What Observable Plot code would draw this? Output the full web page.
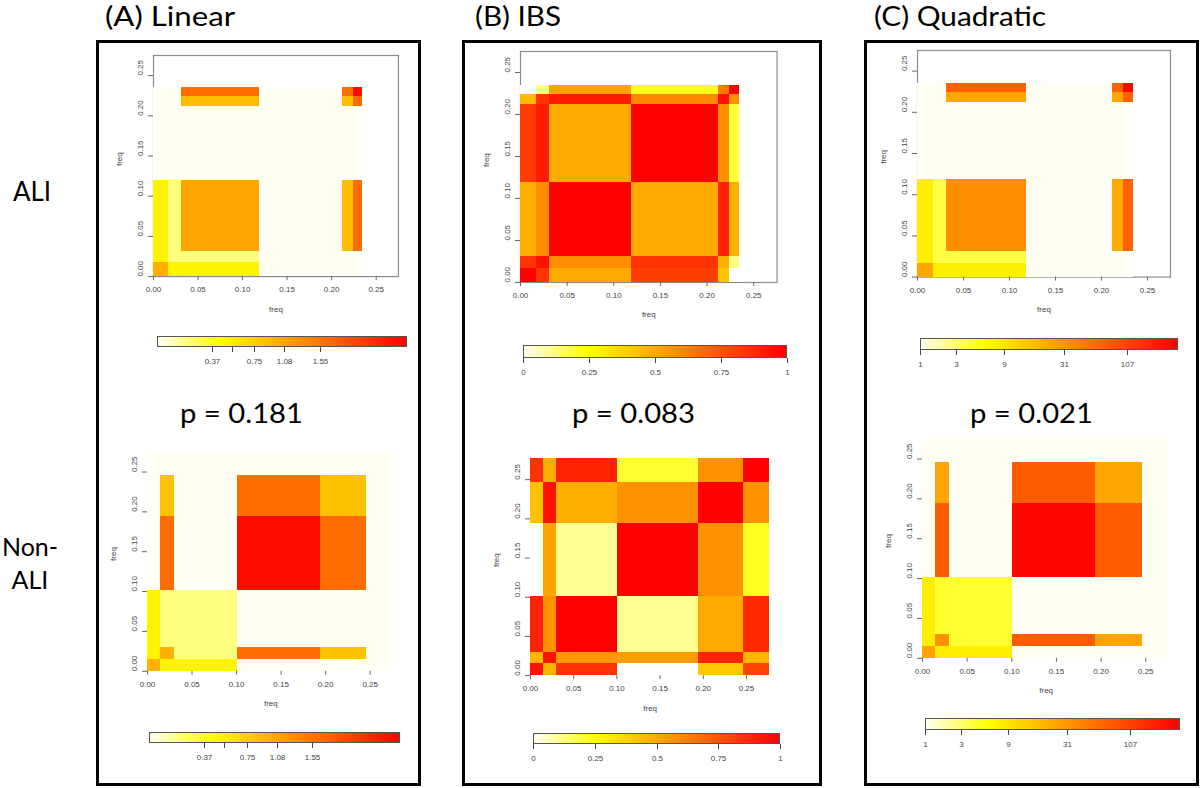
<!DOCTYPE html>
<html><head><meta charset="utf-8">
<script src="https://cdn.jsdelivr.net/npm/d3@7"></script>
<script src="https://cdn.jsdelivr.net/npm/@observablehq/plot@0.6"></script>
<style>
body{margin:0;background:#fff;}
#root{position:relative;width:1200px;height:788px;overflow:hidden;}
</style></head><body><div id="root"></div>
<script>
// ---------------- data ----------------
const columnTitles = ["(A) Linear", "(B) IBS", "(C) Quadratic"];
const rowLabelALI = ["ALI"];
const rowLabelNonALI = ["Non-", "ALI"];
const pValues = ["p = 0.181", "p = 0.083", "p = 0.021"];
const freqTicks = [0, 0.05, 0.10, 0.15, 0.20, 0.25];
const axisLabel = "freq";

// cell boundaries (variant frequency) for each row of panels
const aliBreaks = [0, 0.017, 0.031, 0.119, 0.212, 0.224, 0.235];
const nonAliBreaks = [0, 0.015, 0.030, 0.101, 0.194, 0.246, 0.277];

// kernel matrices: rows = y intervals (bottom to top), columns = x intervals; null = missing
const linearALI = [
  [1.00, 0.50, 0.50, 0, 0, 0],
  [0.50, 0.19, 0.19, 0, 0, 0],
  [0.50, 0.19, 1.10, 0, 0.90, 1.66],
  [0, 0, 0, 0, 0, 0],
  [0, 0, 0.90, 0, 0.90, 1.66],
  [0, 0, 1.66, 0, 1.66, 3.00]
];
const linearNonALI = [
  [1.00, 0.50, 0.50, 0, 0, 0],
  [0.50, 1.00, 0.19, 1.66, 0.85, 0],
  [0.50, 0.19, 0.19, 0, 0, 0],
  [0, 1.66, 0, 3.00, 1.66, 0],
  [0, 0.85, 0, 1.66, 0.85, 0],
  [0, 0, 0, 0, 0, 0]
];
const ibsALI = [
  [1.00, 0.85, 0.50, 0.82, 0.42, null],
  [0.85, 0.95, 0.58, 0.85, 0.48, 0.12],
  [0.48, 0.58, 1.00, 0.50, 0.90, 0.48],
  [0.82, 0.92, 0.50, 1.00, 0.58, 0.20],
  [0.45, 0.85, 0.92, 0.60, 0.95, 0.58],
  [null, 0.12, 0.52, 0.22, 0.65, 1.00]
];
const ibsNonALI = [
  [0.95, 0.47, 0.85, null, 0.41, 0.80],
  [0.47, 0.95, 0.56, 0.54, 0.90, 0.47],
  [0.90, 0.57, 1.00, 0.10, 0.50, 0.88],
  [null, 0.52, 0.10, 1.00, 0.57, 0.22],
  [0.43, 0.95, 0.49, 0.57, 1.00, 0.57],
  [0.85, 0.49, 0.90, 0.20, 0.57, 1.00]
];
const quadALI = [
  [25, 7.9, 7.9, 1, 1, 1],
  [7.9, 3.9, 3.9, 1, 1, 1],
  [7.9, 3.9, 34.6, 1, 22.9, 70],
  [1, 1, 1, 1, 1, 1],
  [1, 1, 25, 1, 25, 70],
  [1, 1, 70, 1, 70, 259]
];
const quadNonALI = [
  [25, 7.9, 7.9, 1, 1, 1],
  [7.9, 32.9, 4.4, 74, 25, 1],
  [7.9, 4.4, 4.4, 1, 1, 1],
  [1, 74, 1, 259, 74, 1],
  [1, 25, 1, 74, 25, 1],
  [1, 1, 1, 1, 1, 1]
];
const linearDomain = [0, 3.21];
const ibsDomain = [0, 1];
const quadDomain = [1, 286];
const linearTicks = [0.37, 0.54, 0.75, 1.08, 1.55];
const linearTickLabels = ["0.37", "", "0.75", "1.08", "1.55"];
const ibsTicks = [0, 0.25, 0.5, 0.75, 1];
const ibsTickLabels = ["0", "0.25", "0.5", "0.75", "1"];
const quadTicks = [1, 3, 9, 31, 107];
const quadTickLabels = ["1", "3", "9", "31", "107"];

// ---------------- helpers ----------------
const root = document.getElementById("root");
function heat(t) {
  t = Math.max(0, Math.min(1, t));
  if (t < 0.25) return d3.interpolateRgb("#fffff4", "#ffff00")(t / 0.25);
  const h = 60 * (1 - (t - 0.25) / 0.75);
  return d3.hsl(h, 1, 0.5).formatHex();
}
const colorLinear = {type: "symlog", constant: 1, domain: linearDomain, interpolate: heat};
const colorIBS = {type: "linear", domain: ibsDomain, interpolate: heat};
const colorQuad = {type: "symlog", constant: 1, domain: quadDomain, interpolate: heat};
const fmt2 = d3.format(".2f");
const tickFont = "'Liberation Sans', Arial, sans-serif";

function place(el, left, top) {
  el.style.position = "absolute";
  el.style.left = left + "px";
  el.style.top = top + "px";
  root.appendChild(el);
}

function heatmap({matrix, breaks, color, x0, kx, xmax, y0, ky, ymax, frame}) {
  const ml = 45, mr = 6, mt = 6, mb = 45;
  const w = kx * xmax, h = ky * ymax;
  const cells = [];
  matrix.forEach((row, j) => row.forEach((v, i) =>
    cells.push({x1: breaks[i], x2: breaks[i + 1], y1: breaks[j], y2: breaks[j + 1], v})));
  const svg = Plot.plot({
    width: w + ml + mr, height: h + mt + mb,
    marginLeft: ml, marginRight: mr, marginTop: mt, marginBottom: mb,
    x: {domain: [0, xmax], axis: null},
    y: {domain: [0, ymax], axis: null},
    color,
    style: {background: "transparent", fontFamily: tickFont, color: "#444", overflow: "visible"},
    marks: [
      frame ? Plot.frame({stroke: "#8c8c8c", strokeWidth: 1.2}) : null,
      Plot.rect(cells.filter(d => d.v != null), {x1: "x1", x2: "x2", y1: "y1", y2: "y2", fill: "v", shapeRendering: "crispEdges"}),
      Plot.rect(cells.filter(d => d.v == null), {x1: "x1", x2: "x2", y1: "y1", y2: "y2", fill: "white", shapeRendering: "crispEdges"}),
      Plot.axisX({ticks: freqTicks, tickFormat: fmt2, tickSize: 4, tickPadding: 6, fontSize: 8, label: null, stroke: "#666", fill: "#444"}),
      Plot.axisY({ticks: freqTicks, tickSize: 5, tickFormat: () => "", label: null, stroke: "#666"}),
      Plot.text(freqTicks, {y: d => d, frameAnchor: "left", text: fmt2, rotate: -90, dx: -13, fontSize: 8, fill: "#444"}),
      Plot.text([axisLabel], {frameAnchor: "bottom", dy: 35, fontSize: 8, fill: "#444"}),
      Plot.text([axisLabel], {frameAnchor: "left", dx: -34, rotate: -90, fontSize: 8, fill: "#444"})
    ]
  });
  place(svg, x0 - ml, y0 - h - mt);
}

function colorbar({color, ticks, labels, left, top, width, barH}) {
  const mt = 1, tickSize = 5, mb = 24;
  const leg = Plot.legend({
    color: {...color, label: null},
    ticks, tickFormat: d => labels[ticks.indexOf(d)] ?? "",
    width, height: mt + barH + mb, marginTop: mt, marginBottom: mb, marginLeft: 0, marginRight: 0,
    tickSize,
    style: {fontSize: "8px", fontFamily: tickFont, color: "#444", background: "transparent", overflow: "visible"}
  });
  leg.querySelectorAll(".tick line").forEach(l => l.setAttribute("y1", 0));
  leg.querySelectorAll(".tick text").forEach(t => t.setAttribute("y", (+t.getAttribute("y") || 8) + 3));
  d3.select(leg).append("rect").attr("x", 0.5).attr("y", mt + 0.5).attr("width", width - 1).attr("height", barH - 1)
    .attr("fill", "none").attr("stroke", "#555").attr("stroke-width", 1);
  leg.style.maxWidth = "none";
  place(leg, left, top - mt);
}

// ---------------- frame, titles, labels ----------------
const ov = d3.create("svg").attr("width", 1200).attr("height", 788);
ov.style("position", "absolute").style("left", "0px").style("top", "0px");
const boxes = [[97.5, 41.5, 419.5, 784.5], [463.5, 41.5, 820.5, 784.5], [865.5, 41.5, 1197.5, 784.5]];
boxes.forEach(([a, b, c, d]) => ov.append("rect").attr("x", a).attr("y", b).attr("width", c - a).attr("height", d - b)
  .attr("fill", "none").attr("stroke", "#000").attr("stroke-width", 3));
const big = "Lato, 'Open Sans', sans-serif";
const titlePos = [[105, 130], [475, 86], [874, 172]];
columnTitles.forEach((t, i) => ov.append("text").attr("x", titlePos[i][0]).attr("y", 26).attr("font-family", big)
  .attr("font-size", 26).attr("textLength", titlePos[i][1]).attr("lengthAdjust", "spacingAndGlyphs").text(t));
const pPos = [[180, 123], [572, 123], [970, 123]];
pValues.forEach((t, i) => ov.append("text").attr("x", pPos[i][0]).attr("y", 423).attr("font-family", big)
  .attr("font-size", 26).attr("textLength", pPos[i][1]).attr("lengthAdjust", "spacingAndGlyphs").text(t));
ov.append("text").attr("x", 32).attr("y", 201).attr("text-anchor", "middle").attr("font-family", big).attr("font-size", 26).text(rowLabelALI[0]);
rowLabelNonALI.forEach((t, i) => ov.append("text").attr("x", 30).attr("y", 556 + 33 * i).attr("text-anchor", "middle")
  .attr("font-family", big).attr("font-size", 25).text(t));
root.appendChild(ov.node());

// ---------------- heatmaps ----------------
heatmap({matrix: linearALI, breaks: aliBreaks, color: colorLinear, x0: 153.3, kx: 890.7, xmax: 0.275, y0: 276, ky: 804, ymax: 0.275, frame: true});
heatmap({matrix: ibsALI, breaks: aliBreaks, color: colorIBS, x0: 520, kx: 933, xmax: 0.275, y0: 282.3, ky: 840, ymax: 0.275, frame: true});
heatmap({matrix: quadALI, breaks: aliBreaks, color: colorQuad, x0: 916.7, kx: 920, xmax: 0.275, y0: 276.7, ky: 824, ymax: 0.275, frame: true});
heatmap({matrix: linearNonALI, breaks: nonAliBreaks, color: colorLinear, x0: 146.7, kx: 890.7, xmax: 0.277, y0: 671, ky: 797, ymax: 0.277, frame: false});
heatmap({matrix: ibsNonALI, breaks: nonAliBreaks, color: colorIBS, x0: 530, kx: 864, xmax: 0.277, y0: 675, ky: 784, ymax: 0.277, frame: false});
heatmap({matrix: quadNonALI, breaks: nonAliBreaks, color: colorQuad, x0: 921.7, kx: 893, xmax: 0.277, y0: 657.3, ky: 797, ymax: 0.277, frame: false});

// ---------------- colour bars ----------------
colorbar({color: colorLinear, ticks: linearTicks, labels: linearTickLabels, left: 157.3, top: 336, width: 250, barH: 11});
colorbar({color: colorLinear, ticks: linearTicks, labels: linearTickLabels, left: 149.3, top: 731.7, width: 251, barH: 11});
colorbar({color: colorIBS, ticks: ibsTicks, labels: ibsTickLabels, left: 522.7, top: 345, width: 264, barH: 13});
colorbar({color: colorIBS, ticks: ibsTicks, labels: ibsTickLabels, left: 532.7, top: 732.7, width: 247, barH: 11});
colorbar({color: colorQuad, ticks: quadTicks, labels: quadTickLabels, left: 920, top: 338.3, width: 258, barH: 12});
colorbar({color: colorQuad, ticks: quadTicks, labels: quadTickLabels, left: 925, top: 717.7, width: 255, barH: 12});
</script></body></html>
